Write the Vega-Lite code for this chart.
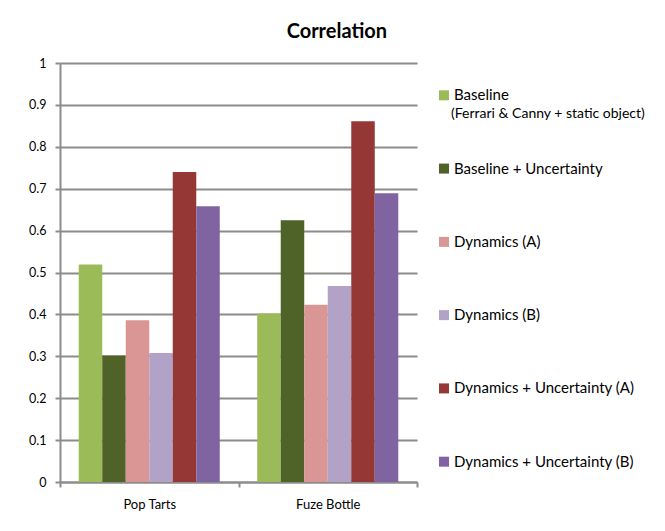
{
  "$schema": "https://vega.github.io/schema/vega-lite/v6.json",
  "padding": {"left": 28, "top": 22, "right": 5, "bottom": 5},
  "background": "white",
  "bounds": "flush",
  "spacing": 27,
  "title": {"text": "Correlation", "fontSize": 20, "font": "Lato", "fontWeight": "bold", "anchor": "middle", "offset": 15, "color": "#000000"},
  "datasets": {
    "bars": [
      {"item": "Pop Tarts", "series": "Baseline", "value": 0.519},
      {"item": "Pop Tarts", "series": "Baseline + Uncertainty", "value": 0.302},
      {"item": "Pop Tarts", "series": "Dynamics (A)", "value": 0.386},
      {"item": "Pop Tarts", "series": "Dynamics (B)", "value": 0.308},
      {"item": "Pop Tarts", "series": "Dynamics + Uncertainty (A)", "value": 0.740},
      {"item": "Pop Tarts", "series": "Dynamics + Uncertainty (B)", "value": 0.658},
      {"item": "Fuze Bottle", "series": "Baseline", "value": 0.402},
      {"item": "Fuze Bottle", "series": "Baseline + Uncertainty", "value": 0.625},
      {"item": "Fuze Bottle", "series": "Dynamics (A)", "value": 0.423},
      {"item": "Fuze Bottle", "series": "Dynamics (B)", "value": 0.468},
      {"item": "Fuze Bottle", "series": "Dynamics + Uncertainty (A)", "value": 0.861},
      {"item": "Fuze Bottle", "series": "Dynamics + Uncertainty (B)", "value": 0.689}
    ],
    "series": [
      {"series": "Baseline", "note": "(Ferrari & Canny + static object)"},
      {"series": "Baseline + Uncertainty", "note": ""},
      {"series": "Dynamics (A)", "note": ""},
      {"series": "Dynamics (B)", "note": ""},
      {"series": "Dynamics + Uncertainty (A)", "note": ""},
      {"series": "Dynamics + Uncertainty (B)", "note": ""}
    ]
  },
  "resolve": {"scale": {"x": "independent", "y": "independent"}},
  "hconcat": [
    {
      "width": 357,
      "height": 419,
      "data": {"name": "bars"},
      "mark": {"type": "bar"},
      "encoding": {
        "x": {
          "field": "item", "type": "nominal", "sort": ["Pop Tarts", "Fuze Bottle"],
          "scale": {"paddingInner": 0, "paddingOuter": 0},
          "axis": {"title": null, "labelAngle": 0, "tickBand": "extent", "domainColor": "#8c8c8c", "domainWidth": 2, "tickColor": "#8c8c8c", "tickWidth": 2, "tickSize": 5, "labelFontSize": 13, "labelPadding": 11, "labelColor": "#000000", "grid": false}
        },
        "xOffset": {
          "field": "series", "type": "nominal",
          "sort": ["Baseline", "Baseline + Uncertainty", "Dynamics (A)", "Dynamics (B)", "Dynamics + Uncertainty (A)", "Dynamics + Uncertainty (B)"],
          "scale": {"paddingInner": 0, "paddingOuter": 0.797}
        },
        "y": {
          "field": "value", "type": "quantitative",
          "scale": {"domain": [0, 1], "nice": false},
          "axis": {"title": null, "values": [0, 0.1, 0.2, 0.3, 0.4, 0.5, 0.6, 0.7, 0.8, 0.9, 1], "format": ".1~f", "grid": true, "gridColor": "#8c8c8c", "gridWidth": 2, "domainColor": "#8c8c8c", "domainWidth": 2, "tickColor": "#8c8c8c", "tickWidth": 2, "tickSize": 5, "labelFontSize": 12.5, "labelPadding": 9, "labelColor": "#000000"}
        },
        "color": {
          "field": "series", "type": "nominal",
          "scale": {
            "domain": ["Baseline", "Baseline + Uncertainty", "Dynamics (A)", "Dynamics (B)", "Dynamics + Uncertainty (A)", "Dynamics + Uncertainty (B)"],
            "range": ["#9bbb59", "#4f6228", "#d99694", "#b3a2c7", "#953735", "#8064a2"]
          },
          "legend": null
        }
      }
    },
    {
      "width": 200,
      "height": 431,
      "data": {"name": "series"},
      "encoding": {
        "x": {"datum": 0, "type": "quantitative", "scale": {"domain": [0, 1]}, "axis": null},
        "y": {"field": "series", "type": "nominal", "sort": null, "scale": {"type": "point", "padding": 0.441}, "axis": null}
      },
      "layer": [
        {
          "mark": {"type": "square", "size": 100, "opacity": 1, "filled": true},
          "encoding": {
            "color": {
              "field": "series", "type": "nominal",
              "scale": {
                "domain": ["Baseline", "Baseline + Uncertainty", "Dynamics (A)", "Dynamics (B)", "Dynamics + Uncertainty (A)", "Dynamics + Uncertainty (B)"],
                "range": ["#9bbb59", "#4f6228", "#d99694", "#b3a2c7", "#953735", "#8064a2"]
              },
              "legend": null
            }
          }
        },
        {
          "mark": {"type": "text", "align": "left", "baseline": "middle", "dx": 10, "fontSize": 15, "color": "#000000"},
          "encoding": {"text": {"field": "series"}}
        },
        {
          "transform": [{"filter": "datum.note != ''"}],
          "mark": {"type": "text", "align": "left", "baseline": "middle", "dx": 7, "dy": 19, "fontSize": 14, "color": "#000000"},
          "encoding": {"text": {"field": "note"}}
        }
      ]
    }
  ],
  "config": {"font": "Lato", "view": {"stroke": null}}
}
